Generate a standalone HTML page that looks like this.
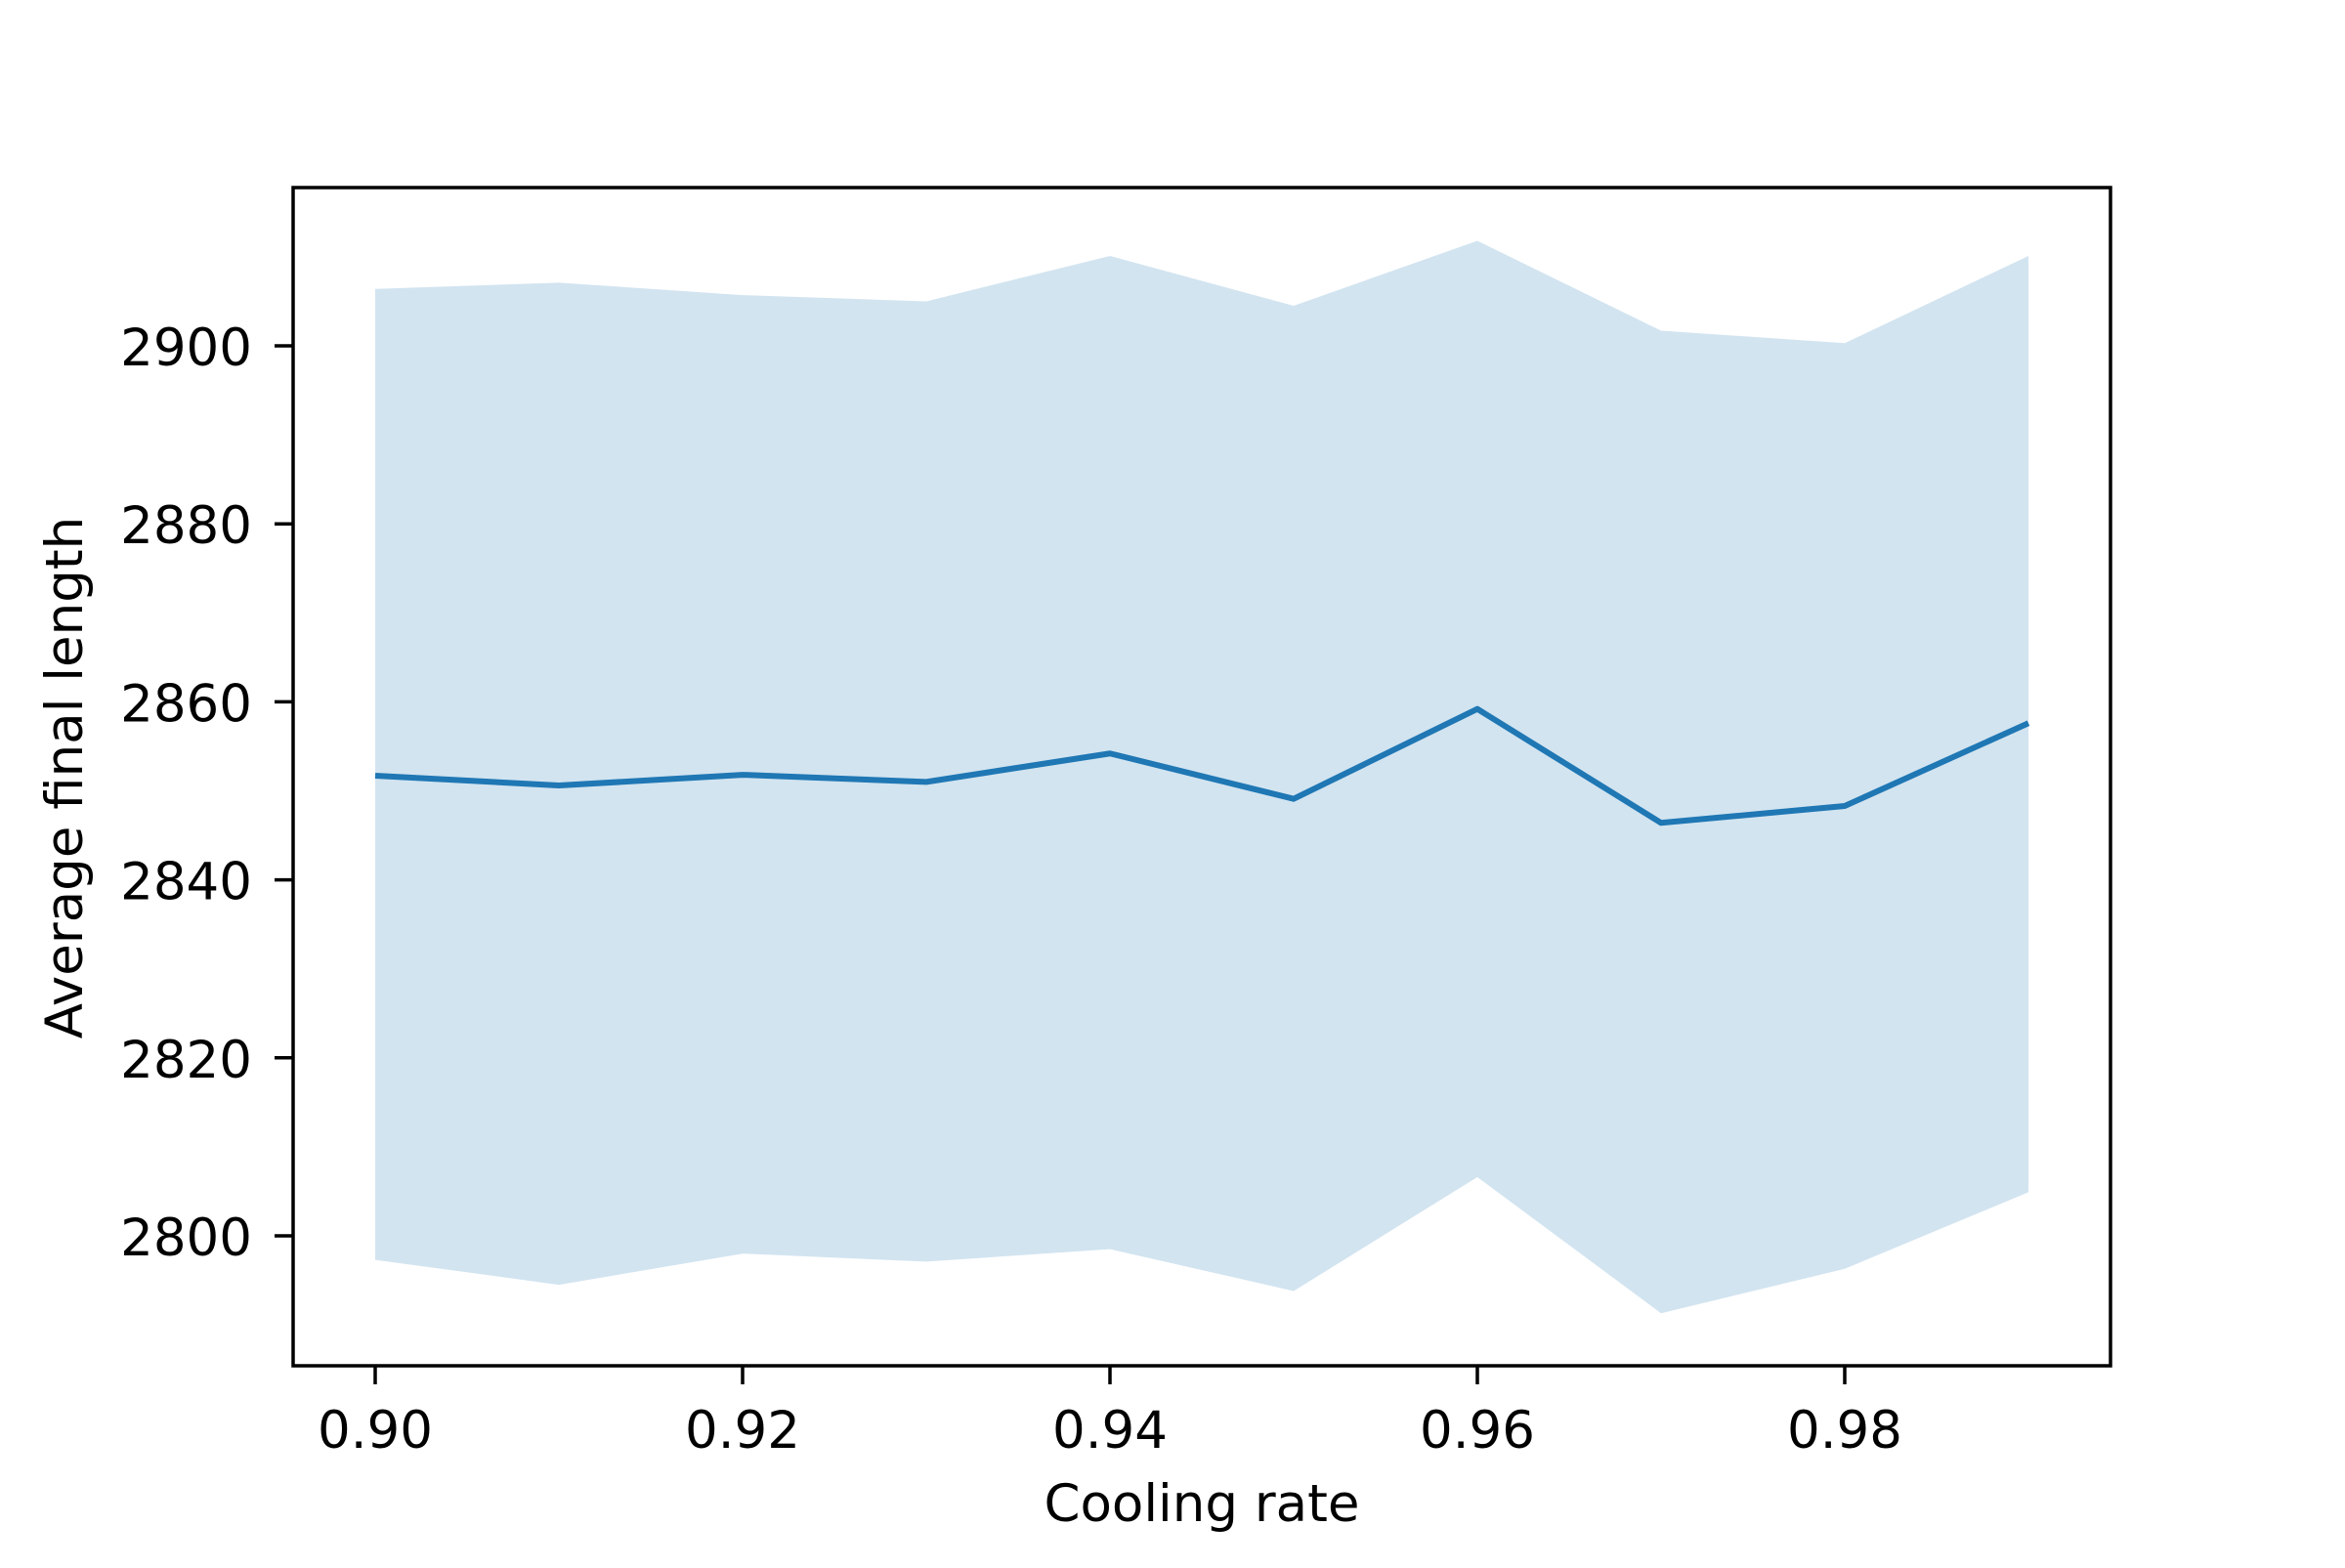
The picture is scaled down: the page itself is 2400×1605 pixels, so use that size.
<!DOCTYPE html>
<html><head><meta charset="utf-8"><style>
html,body{margin:0;padding:0;background:#fff;}
svg text{font-family:"DejaVu Sans","Liberation Sans",sans-serif;fill:#000;}
</style></head><body>
<svg id="chart" width="2400" height="1600" viewBox="0 0 2400 1600" xmlns="http://www.w3.org/2000/svg">
<rect width="2400" height="1600" fill="#fff"/>
<g id="plot"></g>
<rect x="300" y="192" width="1860" height="1206" fill="none" stroke="#000" stroke-width="3.5"/>
<text x="1230" y="1557" font-size="53" text-anchor="middle">Cooling rate</text>
<text transform="translate(84,796) rotate(-90)" font-size="53" text-anchor="middle">Average final length</text>
</svg>
<script>
const categories = [0.90,0.91,0.92,0.93,0.94,0.95,0.96,0.97,0.98,0.99];
const meanValues = [2851.7,2850.6,2851.8,2851.0,2854.2,2849.1,2859.2,2846.4,2848.3,2857.6];
const upperValues = [2906.4,2907.1,2905.7,2905.0,2910.1,2904.5,2911.8,2901.7,2900.3,2910.1];
const lowerValues = [2797.3,2794.5,2798.0,2797.1,2798.5,2793.8,2806.6,2791.3,2796.3,2804.9];
const xTicks = [0.90,0.92,0.94,0.96,0.98];
const xTickLabels = ["0.90","0.92","0.94","0.96","0.98"];
const yTicks = [2800,2820,2840,2860,2880,2900];
const yTickLabels = ["2800","2820","2840","2860","2880","2900"];

const NS="http://www.w3.org/2000/svg";
const xs = v => 384 + (v-0.90)/0.08*(1888-384);
const ys = v => 1265 - (v-2800)/100*(1265-354);
const g=document.getElementById('plot');
function mk(t,a){const e=document.createElementNS(NS,t);for(const k in a)e.setAttribute(k,a[k]);g.appendChild(e);return e;}

let d='M'+categories.map((c,i)=>xs(c)+','+ys(upperValues[i])).join(' L');
for(let i=categories.length-1;i>=0;i--) d+=' L'+xs(categories[i])+','+ys(lowerValues[i]);
const band=mk('path',{d:d+' Z',fill:'#1f77b4','fill-opacity':'0.2'});



const line=mk('polyline',{points:categories.map((c,i)=>xs(c)+','+ys(meanValues[i])).join(' '),fill:'none',stroke:'#1f77b4','stroke-width':'6','stroke-linejoin':'round'});



xTicks.forEach((v,i)=>{
  const t=mk('line',{x1:xs(v),x2:xs(v),y1:1398,y2:1417,stroke:'#000','stroke-width':'3.5'});
  
  
  const l=mk('text',{x:xs(v),y:1482,'font-size':'53','text-anchor':'middle'});
  l.textContent=xTickLabels[i];
  
  
});
yTicks.forEach((v,i)=>{
  const t=mk('line',{x1:281,x2:300,y1:ys(v),y2:ys(v),stroke:'#000','stroke-width':'3.5'});
  
  
  const l=mk('text',{x:258,y:ys(v)+20,'font-size':'53','text-anchor':'end'});
  l.textContent=yTickLabels[i];
  
  
});
</script>
</body></html>
